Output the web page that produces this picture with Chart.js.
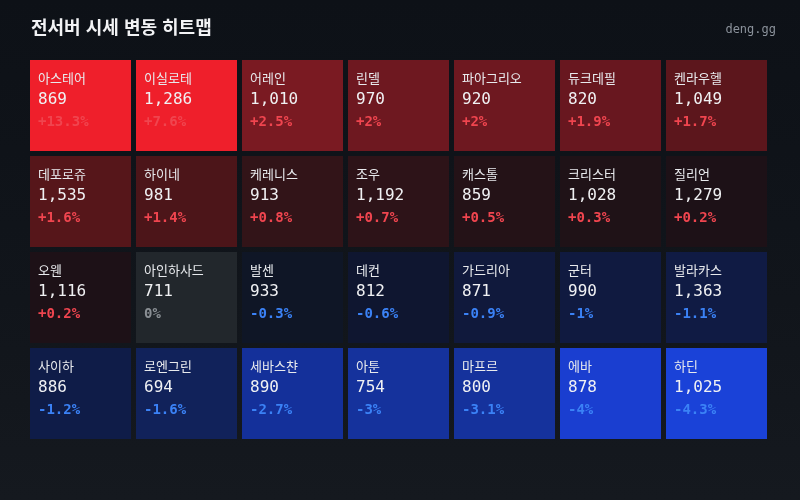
<!DOCTYPE html>
<html lang="ko">
<head>
<meta charset="utf-8">
<script src="https://cdn.jsdelivr.net/npm/chart.js@4.4.1/dist/chart.umd.min.js"></script>
<style>
    html, body { margin: 0; padding: 0; }
    body {
        width: 800px; height: 500px; overflow: hidden; position: relative;
        background: linear-gradient(180deg, #0d1117 0%, #11151b 60%, #15191f 100%);
    }
    #title {
        position: absolute; left: 31px; top: 13px;
        font: bold 18px "Noto Sans CJK KR", "Noto Sans", sans-serif;
        color: #f2f3f5;
    }
    #brand {
        position: absolute; right: 24px; top: 22px;
        font: 12px "DejaVu Sans Mono", monospace;
        color: #8b929b;
    }
    #wrap { position: absolute; left: 0; top: 0; width: 800px; height: 500px; }
</style>
</head>
<body>
<div id="wrap"><canvas id="graph"></canvas></div>
<div id="title">전서버 시세 변동 히트맵</div>
<div id="brand">deng.gg</div>
<script>
// 데이터 (행 우선, 7열 x 4행)
const servers = [
    '아스테어', '이실로테', '어레인', '린델', '파아그리오', '듀크데필', '켄라우헬',
    '데포로쥬', '하이네', '케레니스', '조우', '캐스톨', '크리스터', '질리언',
    '오웬', '아인하사드', '발센', '데컨', '가드리아', '군터', '발라카스',
    '사이하', '로엔그린', '세바스챤', '아툰', '마프르', '에바', '하딘'
];
const prices = [
    869, 1286, 1010, 970, 920, 820, 1049,
    1535, 981, 913, 1192, 859, 1028, 1279,
    1116, 711, 933, 812, 871, 990, 1363,
    886, 694, 890, 754, 800, 878, 1025
];
const changes = [
    13.3, 7.6, 2.5, 2, 2, 1.9, 1.7,
    1.6, 1.4, 0.8, 0.7, 0.5, 0.3, 0.2,
    0.2, 0, -0.3, -0.6, -0.9, -1, -1.1,
    -1.2, -1.6, -2.7, -3, -3.1, -4, -4.3
];
const columns = ['1', '2', '3', '4', '5', '6', '7'];
const rowCount = 4;

// 색상 스케일
const upStops = [
    [0, [24, 17, 23]], [0.5, [36, 18, 23]], [0.8, [50, 20, 24]], [1.5, [80, 21, 25]],
    [2.0, [110, 24, 32]], [2.5, [122, 26, 34]], [5, [239, 31, 43]]
];
const downStops = [
    [0, [15, 20, 34]], [0.3, [15, 22, 38]], [0.6, [15, 22, 48]], [1.0, [16, 26, 64]],
    [1.2, [15, 28, 72]], [1.6, [17, 34, 90]], [2.7, [20, 48, 154]], [3.1, [21, 50, 156]],
    [4.0, [26, 62, 208]], [4.3, [26, 66, 216]]
];
function scaleColor(v) {
    if (v === 0) return '#22272c';
    const stops = v > 0 ? upStops : downStops;
    const a = Math.abs(v);
    if (a >= stops[stops.length - 1][0]) {
        const c = stops[stops.length - 1][1];
        return `rgb(${c[0]},${c[1]},${c[2]})`;
    }
    for (let i = 1; i < stops.length; i++) {
        if (a <= stops[i][0]) {
            const [x0, c0] = stops[i - 1];
            const [x1, c1] = stops[i];
            const t = (a - x0) / (x1 - x0);
            const c = c0.map((ch, k) => Math.round(ch + (c1[k] - ch) * t));
            return `rgb(${c[0]},${c[1]},${c[2]})`;
        }
    }
}

function fmtChange(v) {
    if (v > 0) return '+' + v + '%';
    return v + '%';
}

// 셀 간격 (행 높이 대비)
const gap = 2.5 / 96;

const datasets = [];
for (let r = 0; r < rowCount; r++) {
    const idx = columns.map((c, j) => r * columns.length + j);
    datasets.push({
        label: 'row' + r,
        data: idx.map(() => [r + gap, r + 1 - gap]),
        backgroundColor: idx.map(i => scaleColor(changes[i])),
        cellIndex: idx,
        borderWidth: 0,
        borderSkipped: false,
        grouped: false,
        barPercentage: 1,
        categoryPercentage: 101 / 106
    });
}

// 셀 텍스트
const cellText = {
    id: 'cellText',
    afterDatasetsDraw(chart) {
        const ctx = chart.ctx;
        ctx.save();
        ctx.textBaseline = 'middle';
        ctx.textAlign = 'left';
        chart.data.datasets.forEach((ds, di) => {
            const meta = chart.getDatasetMeta(di);
            meta.data.forEach((bar, j) => {
                const i = ds.cellIndex[j];
                const left = bar.x - bar.width / 2 + 8;
                const top = Math.min(bar.y, bar.base);
                ctx.fillStyle = '#e8eaed';
                ctx.font = '13px "Noto Sans CJK KR", sans-serif';
                ctx.fillText(servers[i], left, top + 18);
                ctx.fillStyle = '#f0f1f3';
                ctx.font = '16px "DejaVu Sans Mono", monospace';
                ctx.fillText(prices[i].toLocaleString('en-US'), left, top + 40);
                const v = changes[i];
                ctx.fillStyle = v > 0 ? '#f0454f' : (v < 0 ? '#3b82f6' : '#8a8f94');
                ctx.font = 'bold 14px "DejaVu Sans Mono", monospace';
                ctx.fillText(fmtChange(v), left, top + 62);
            });
        });
        ctx.restore();
    }
};

var ctx = document.getElementById('graph').getContext('2d');
var Graph = new Chart(ctx, {
    type: 'bar',
    data: { labels: columns, datasets: datasets },
    options: {
        responsive: true,
        maintainAspectRatio: false,
        animation: false,
        layout: { padding: { left: 27.5, right: 30.5, top: 57.5, bottom: 58.5 } },
        plugins: { legend: { display: false }, tooltip: { enabled: false } },
        scales: {
            x: { display: false, offset: true },
            y: { display: false, min: 0, max: rowCount, reverse: true }
        }
    },
    plugins: [cellText]
});
</script>
</body>
</html>
